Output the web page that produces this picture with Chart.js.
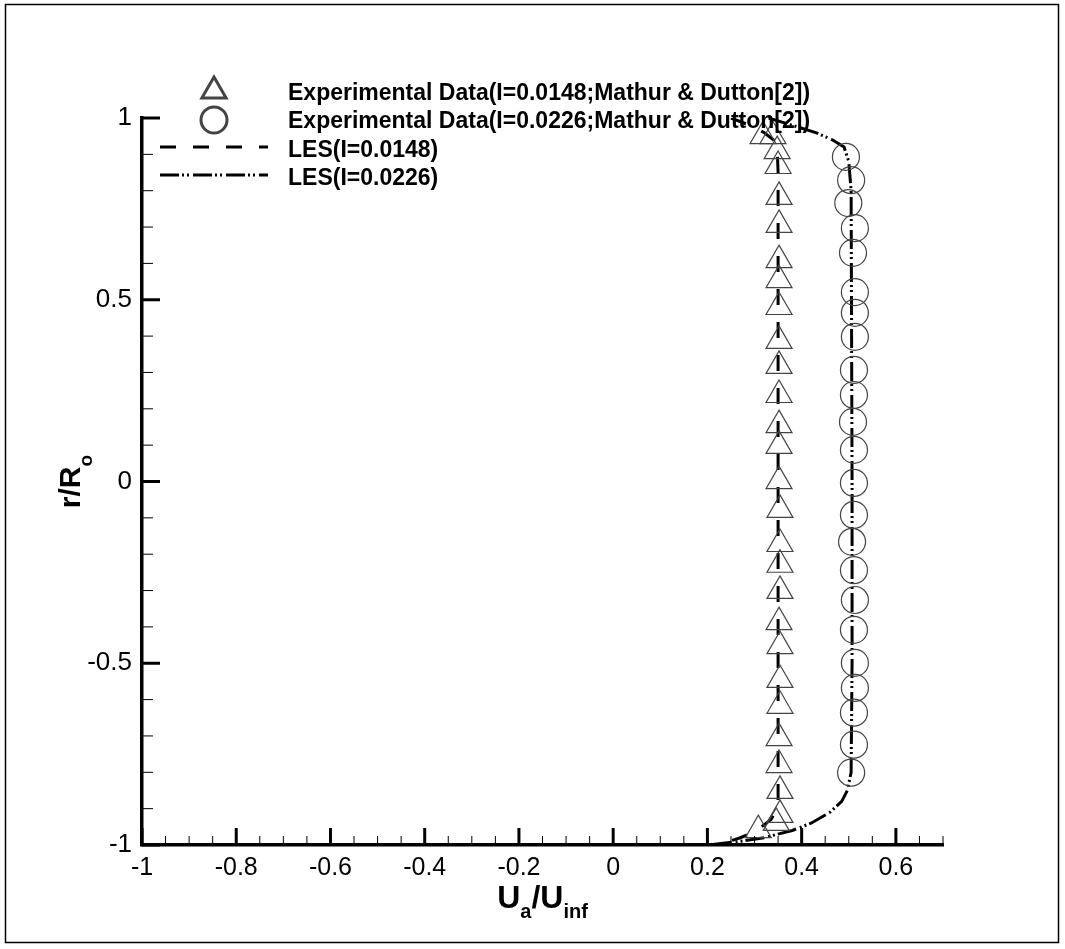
<!DOCTYPE html>
<html>
<head>
<meta charset="utf-8">
<script src="https://cdn.jsdelivr.net/npm/chart.js@4.4.1/dist/chart.umd.min.js"></script>
<style>
  body { margin: 0; background: #fff; }
  #wrap { width: 1065px; height: 949px; }
</style>
</head>
<body>
<div id="wrap"><canvas id="profileChart" width="1065" height="949"></canvas></div>
<script>
// axial velocity profiles, experiment vs LES
const legendLabels = [
    "Experimental Data(I=0.0148;Mathur & Dutton[2])",
    "Experimental Data(I=0.0226;Mathur & Dutton[2])",
    "LES(I=0.0148)",
    "LES(I=0.0226)"
];

const xTicks = [-1, -0.8, -0.6, -0.4, -0.2, 0, 0.2, 0.4, 0.6];
const yTicks = [-1, -0.5, 0, 0.5, 1];
const xMinorStep = 0.05;
const yMinorStep = 0.1;

// measured points, I = 0.0148
const triX = [0.318, 0.339, 0.348, 0.350, 0.352, 0.352, 0.352, 0.352, 0.352, 0.352, 0.352, 0.352, 0.352, 0.352, 0.352,
              0.354, 0.354, 0.354, 0.354, 0.352, 0.354, 0.354, 0.354, 0.352, 0.352, 0.354, 0.354, 0.346, 0.308];
const triY = [0.950, 0.950, 0.909, 0.868, 0.783, 0.706, 0.609, 0.554, 0.480, 0.387, 0.318, 0.238, 0.155, 0.098, 0.001,
              -0.078, -0.172, -0.229, -0.301, -0.387, -0.453, -0.546, -0.617, -0.706, -0.780, -0.851, -0.917, -0.939, -0.959];

// measured points, I = 0.0226
const cirX = [0.494, 0.505, 0.499, 0.513, 0.509, 0.513, 0.513, 0.513, 0.511, 0.511, 0.509, 0.511,
              0.511, 0.511, 0.507, 0.511, 0.513, 0.511, 0.513, 0.513, 0.511, 0.511, 0.505];
const cirY = [0.893, 0.829, 0.766, 0.697, 0.629, 0.521, 0.464, 0.398, 0.307, 0.238, 0.164, 0.087,
              -0.004, -0.092, -0.166, -0.244, -0.326, -0.408, -0.499, -0.568, -0.636, -0.724, -0.801];

// LES profiles
const les1X = [0.25, 0.29, 0.32, 0.34, 0.348, 0.350, 0.350, 0.350, 0.350, 0.350, 0.350, 0.348, 0.335, 0.305, 0.27, 0.22];
const les1Y = [1.0, 0.98, 0.96, 0.94, 0.92, 0.85, 0.5, 0.0, -0.5, -0.85, -0.88, -0.9, -0.93, -0.96, -0.98, -1.0];

const les2X = [0.33, 0.38, 0.43, 0.465, 0.49, 0.50, 0.505, 0.507, 0.507, 0.505, 0.497, 0.485, 0.46, 0.42, 0.38, 0.32, 0.27, 0.20];
const les2Y = [1.0, 0.98, 0.96, 0.94, 0.92, 0.88, 0.8, 0.0, -0.5, -0.8, -0.85, -0.88, -0.91, -0.94, -0.96, -0.98, -0.99, -1.0];

const pts = (xs, ys) => xs.map((x, i) => ({ x: x, y: ys[i] }));

const FONT = "'Liberation Sans', Arial, Helvetica, sans-serif";
const markerColor = "#444";

const datasets = [
    {
        label: legendLabels[0],
        data: pts(triX, triY),
        pointStyle: "triangle",
        pointRadius: 15,
        pointBorderWidth: 1.2,
        pointBorderColor: markerColor,
        pointBackgroundColor: "rgba(0,0,0,0)",
        showLine: false
    },
    {
        label: legendLabels[1],
        data: pts(cirX, cirY),
        pointStyle: "circle",
        pointRadius: 13.5,
        pointBorderWidth: 1.2,
        pointBorderColor: markerColor,
        pointBackgroundColor: "rgba(0,0,0,0)",
        showLine: false
    },
    {
        label: legendLabels[2],
        data: pts(les1X, les1Y),
        showLine: true,
        pointRadius: 0,
        borderColor: "#000",
        borderWidth: 3,
        borderDash: [16, 17],
        fill: false,
        tension: 0
    },
    {
        label: legendLabels[3],
        data: pts(les2X, les2Y),
        showLine: true,
        pointRadius: 0,
        borderColor: "#000",
        borderWidth: 3,
        borderDash: [19, 3, 2, 3, 2, 4],
        fill: false,
        tension: 0
    }
];

// white page, outer frame, inward ticks, legend and axis titles
const decorations = {
    id: "decorations",
    beforeDraw(chart) {
        const ctx = chart.ctx;
        ctx.save();
        ctx.fillStyle = "#fff";
        ctx.fillRect(0, 0, chart.width, chart.height);
        ctx.restore();
    },
    afterDraw(chart) {
        const ctx = chart.ctx;
        const xs = chart.scales.x, ys = chart.scales.y;
        const a = chart.chartArea;
        ctx.save();

        // frame round the page
        ctx.strokeStyle = "#000";
        ctx.lineWidth = 1.5;
        ctx.strokeRect(5.5, 4.5, 1053, 938);

        // x ticks
        const nx = Math.round((xs.max - xs.min) / xMinorStep);
        for (let i = 0; i <= nx; i++) {
            const v = xs.min + i * xMinorStep;
            const major = xTicks.some(t => Math.abs(t - v) < 1e-6);
            const px = xs.getPixelForValue(v);
            ctx.lineWidth = major ? 3 : 1;
            ctx.beginPath();
            ctx.moveTo(px, a.bottom);
            ctx.lineTo(px, a.bottom - (major ? 17 : 9));
            ctx.stroke();
        }
        // y ticks
        const ny = Math.round((ys.max - ys.min) / yMinorStep);
        for (let i = 0; i <= ny; i++) {
            const v = ys.min + i * yMinorStep;
            const major = yTicks.some(t => Math.abs(t - v) < 1e-6);
            const py = ys.getPixelForValue(v);
            ctx.lineWidth = major ? 3 : 1;
            ctx.beginPath();
            ctx.moveTo(a.left, py);
            ctx.lineTo(a.left + (major ? 18 : 11), py);
            ctx.stroke();
        }

        // legend
        const symX = 214, lineX0 = 160, lineX1 = 268, textX = 288;
        const symY = [91, 120, 147, 175];
        const textY = [94, 122, 151, 179];
        ctx.font = "bold 23px " + FONT;
        ctx.textBaseline = "middle";
        ctx.textAlign = "left";
        chart.data.datasets.forEach((ds, i) => {
            if (ds.showLine) {
                ctx.strokeStyle = ds.borderColor;
                ctx.lineWidth = ds.borderWidth;
                ctx.setLineDash(ds.borderDash);
                ctx.beginPath();
                ctx.moveTo(lineX0, symY[i]);
                ctx.lineTo(lineX1, symY[i]);
                ctx.stroke();
                ctx.setLineDash([]);
            } else {
                ctx.strokeStyle = ds.pointBorderColor;
                ctx.fillStyle = "rgba(0,0,0,0)";
                Chart.helpers.drawPoint(ctx, {
                    pointStyle: ds.pointStyle,
                    radius: ds.pointStyle === "triangle" ? 14 : 13,
                    rotation: 0,
                    borderWidth: ds.pointBorderWidth
                }, symX, symY[i]);
            }
            ctx.fillStyle = "#000";
            ctx.fillText(ds.label, textX, textY[i]);
        });

        // x title U_a/U_inf
        const big = "bold 32px " + FONT, small = "bold 20px " + FONT;
        const parts = [["U", big, 0], ["a", small, 10], ["/", big, 0], ["U", big, 0], ["inf", small, 10]];
        let total = 0;
        parts.forEach(p => { ctx.font = p[1]; total += ctx.measureText(p[0]).width; });
        let cx = (a.left + a.right) / 2 - total / 2;
        ctx.textBaseline = "alphabetic";
        ctx.fillStyle = "#000";
        parts.forEach(p => {
            ctx.font = p[1];
            ctx.fillText(p[0], cx, 908 + p[2]);
            cx += ctx.measureText(p[0]).width;
        });

        // y title r/R_o
        ctx.translate(80, (a.top + a.bottom) / 2);
        ctx.rotate(-Math.PI / 2);
        const yparts = [["r/R", "bold 30px " + FONT, 0], ["o", "bold 19px " + FONT, 12]];
        total = 0;
        yparts.forEach(p => { ctx.font = p[1]; total += ctx.measureText(p[0]).width; });
        cx = -total / 2;
        yparts.forEach(p => {
            ctx.font = p[1];
            ctx.fillText(p[0], cx, p[2]);
            cx += ctx.measureText(p[0]).width;
        });

        ctx.restore();
    }
};

new Chart(document.getElementById("profileChart"), {
    type: "scatter",
    data: { datasets: datasets },
    options: {
        responsive: false,
        animation: false,
        devicePixelRatio: 1,
        events: [],
        layout: { padding: { left: 0, right: 122, top: 118, bottom: 0 } },
        plugins: {
            legend: { display: false },
            tooltip: { enabled: false }
        },
        scales: {
            x: {
                type: "linear",
                min: -1,
                max: 0.7,
                afterBuildTicks: s => { s.ticks = xTicks.map(v => ({ value: v })); },
                afterFit: s => { s.height = 104; },
                grid: { display: false, drawTicks: false },
                border: { display: true, color: "#000", width: 3.5 },
                ticks: {
                    color: "#000",
                    font: { family: FONT, size: 25 },
                    padding: 8,
                    maxRotation: 0,
                    autoSkip: false,
                    callback: v => String(v)
                }
            },
            y: {
                type: "linear",
                min: -1,
                max: 1,
                afterBuildTicks: s => { s.ticks = yTicks.map(v => ({ value: v })); },
                afterFit: s => { s.width = 142; },
                grid: { display: false, drawTicks: false },
                border: { display: true, color: "#000", width: 3.5 },
                ticks: {
                    color: "#000",
                    font: { family: FONT, size: 26 },
                    padding: 10,
                    autoSkip: false,
                    callback: v => String(v)
                }
            }
        }
    },
    plugins: [decorations]
});
</script>
</body>
</html>
